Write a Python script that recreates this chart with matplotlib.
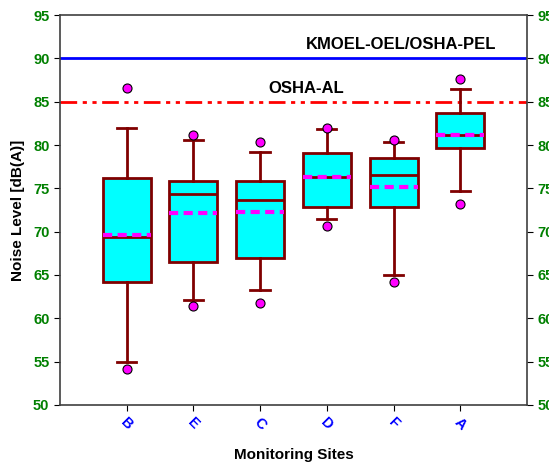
import matplotlib
matplotlib.use("Agg")
import matplotlib.pyplot as plt

plt.rcParams['font.family'] = ['Liberation Sans', 'DejaVu Sans']

sites = ["B", "E", "C", "D", "F", "A"]
whisker_low = [55.0, 62.1, 63.3, 71.5, 65.0, 74.7]
q1 = [64.2, 66.5, 67.0, 72.9, 72.9, 79.6]
median = [69.4, 74.4, 73.6, 76.3, 76.5, 81.1]
q3 = [76.2, 75.8, 75.9, 79.1, 78.5, 83.7]
whisker_high = [82.0, 80.6, 79.2, 81.8, 80.3, 86.5]
mean = [69.6, 72.1, 72.3, 76.3, 75.1, 81.1]
outliers = [[86.6, 54.2], [81.2, 61.4], [80.3, 61.8],
            [82.0, 70.6], [80.6, 64.2], [87.6, 73.2]]

pel_level = 90
al_level = 85

fig = plt.figure(figsize=(5.49, 4.62), dpi=100)
ax = fig.add_axes([0.109, 0.1234, 0.851, 0.8441])

stats = []
for i in range(len(sites)):
    stats.append(dict(label=sites[i], whislo=whisker_low[i], q1=q1[i],
                      med=median[i], q3=q3[i], whishi=whisker_high[i],
                      mean=mean[i], fliers=outliers[i]))

edge = "#800000"
positions = range(1, len(sites) + 1)
ax.bxp(stats, positions=positions, widths=0.72, patch_artist=True,
       showmeans=True, meanline=True, showfliers=True,
       boxprops=dict(facecolor="cyan", edgecolor=edge, linewidth=2),
       whiskerprops=dict(color=edge, linewidth=2),
       capprops=dict(color=edge, linewidth=2),
       capwidths=0.29,
       medianprops=dict(color=edge, linewidth=2),
       meanprops=dict(color="magenta", linestyle=(0, (2.2, 1.3)), linewidth=3),
       flierprops=dict(marker="o", markerfacecolor="magenta",
                       markeredgecolor="black", markeredgewidth=0.8,
                       markersize=6.5))

# exposure limit lines
ax.axhline(pel_level, color="blue", linewidth=2, zorder=1)
ax.axhline(al_level, color="red", linewidth=2,
           linestyle=(0, (6, 2, 1.5, 2, 1.5, 2)), zorder=1)
ax.text(5.11, 90.7, "KMOEL-OEL/OSHA-PEL", fontsize=12, fontweight="bold",
        ha="center", va="bottom")
ax.text(3.69, 85.7, "OSHA-AL", fontsize=12, fontweight="bold",
        ha="center", va="bottom")

ax.set_xlim(0, 7)
ax.set_ylim(50, 95)
ax.set_xticks(list(positions), labels=sites)
ax.set_yticks(range(50, 96, 5))
ax.tick_params(axis="x", colors="black", labelcolor="blue", length=4,
               labelsize=10.5)
plt.setp(ax.get_xticklabels(), rotation=-45, ha="center", va="top",
         fontweight="bold")
ax.tick_params(axis="y", labelcolor="green", labelsize=10.5, length=4,
               right=True, labelright=True)
for t in ax.yaxis.get_major_ticks():
    t.label1.set_fontweight("bold")
    t.label2.set_fontweight("bold")
    t.label2.set_color("green")

for s in ax.spines.values():
    s.set_color("#404040")
    s.set_linewidth(1.2)

ax.set_ylabel("Noise Level [dB(A)]", fontsize=11, fontweight="bold",
              labelpad=6)
ax.set_xlabel("Monitoring Sites", fontsize=11, fontweight="bold",
              labelpad=11)

fig.savefig("out.png", dpi=100)
